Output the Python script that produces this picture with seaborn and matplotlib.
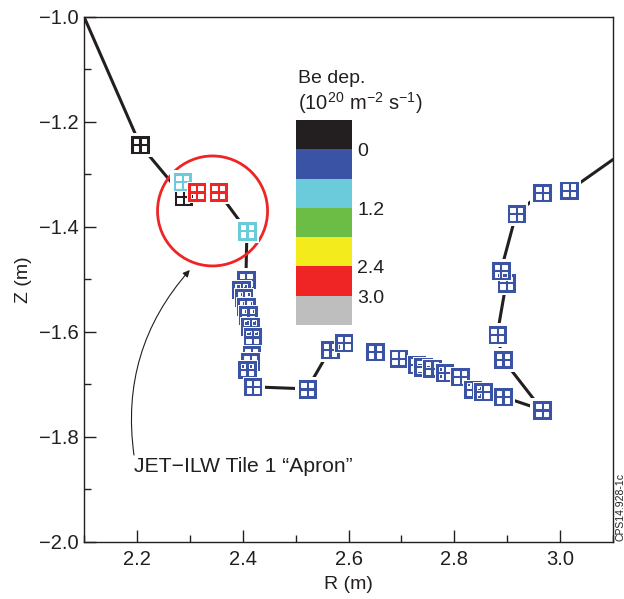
import numpy as np
import pandas as pd
import seaborn as sns
import matplotlib.pyplot as plt
from matplotlib.path import Path
from matplotlib.patches import Ellipse
from matplotlib.colors import ListedColormap
from matplotlib.ticker import MultipleLocator

sns.set_theme(style="ticks")
plt.rcParams["font.family"] = ["Liberation Sans", "DejaVu Sans"]
plt.rcParams["mathtext.fontset"] = "custom"
plt.rcParams["mathtext.rm"] = "Liberation Sans"
plt.rcParams["mathtext.it"] = "Liberation Sans:italic"

INK = "#231f20"

# wall profile, R and Z in m (first and last point have no tile)
r_pts = [2.100, 2.206, 2.288, 2.286, 2.313, 2.354, 2.408,
         2.406, 2.397, 2.402, 2.406, 2.410, 2.414, 2.418, 2.416, 2.414, 2.408, 2.419,
         2.522, 2.565, 2.591, 2.650, 2.694, 2.729, 2.741, 2.758, 2.782, 2.811,
         2.835, 2.854, 2.892, 2.966, 2.892, 2.881, 2.898, 2.888, 2.917, 2.966,
         3.017, 3.100]
z_pts = [-1.000, -1.244, -1.343, -1.314, -1.334, -1.334, -1.408,
         -1.501, -1.520, -1.535, -1.552, -1.568, -1.590, -1.610, -1.644, -1.657, -1.672, -1.705,
         -1.709, -1.634, -1.621, -1.638, -1.651, -1.663, -1.667, -1.670, -1.678, -1.686,
         -1.710, -1.714, -1.724, -1.749, -1.653, -1.606, -1.507, -1.484, -1.375, -1.335,
         -1.331, -1.272]
# Be deposition class of each tile ('' = no tile)
dep = ["", "k", "k", "c", "r", "r", "c"] + ["b"] * 32 + [""]
# is the wall line drawn from the previous point?
joined = [False, True, True, True, True, True, True,
          True, True, True, True, True, True, True, True, True, True, True,
          True, True, True, False, False, True, True, True, True, True,
          True, True, True, True, True, True, True, True, True, True,
          False, True]

# colour scale of the legend
scale_colors = ["#231f20", "#3a53a4", "#6bcbdb", "#6cbd45", "#f3eb1c", "#ee2524", "#bebebe"]
scale_labels = ["0", "1.2", "2.4", "3.0"]
scale_label_rows = [1, 3, 5, 6]
tile_palette = {"k": "#231f20", "b": "#3a53a4", "c": "#6bcbdb", "r": "#ee2524"}

wall = pd.DataFrame({"R": r_pts, "Z": z_pts, "dep": dep})
wall["seg"] = np.cumsum([not j for j in joined])
tiles = wall[wall["dep"] != ""]


def tile_marker():
    # square with four windows, like a tile symbol
    a, b, c = 1.0, 0.62, 0.165
    verts = [(-a, -a), (a, -a), (a, a), (-a, a), (-a, -a)]
    codes = [Path.MOVETO] + [Path.LINETO] * 3 + [Path.CLOSEPOLY]
    for sx in (-1, 1):
        for sy in (-1, 1):
            x0, x1 = sorted((sx * c, sx * b))
            y0, y1 = sorted((sy * c, sy * b))
            verts += [(x0, y0), (x0, y1), (x1, y1), (x1, y0), (x0, y0)]
            codes += [Path.MOVETO] + [Path.LINETO] * 3 + [Path.CLOSEPOLY]
    return Path(verts, codes)


fig = plt.figure(figsize=(6.24, 5.99), dpi=100)
ax = fig.add_axes([0.1346, 0.0957, 0.8478, 0.8764])

sns.lineplot(data=wall, x="R", y="Z", units="seg", estimator=None, sort=False,
             color=INK, lw=2.2, ax=ax, zorder=2, legend=False)
# white halo so the wall line stops short of the tiles
sns.scatterplot(data=tiles, x="R", y="Z", color="white", marker="s", s=17 ** 2,
                linewidth=0, ax=ax, zorder=3, legend=False)
sns.scatterplot(data=tiles, x="R", y="Z", hue="dep", palette=tile_palette,
                marker=tile_marker(), s=13.9 ** 2, edgecolor="white", linewidth=0.7,
                ax=ax, zorder=4, legend=False)

ax.add_patch(Ellipse((2.343, -1.370), 0.208, 0.2095, fill=False,
                     edgecolor="#ee2524", lw=2.0, zorder=2.5))
ax.annotate("", xy=(2.300, -1.4825), xytext=(2.1945, -1.835),
            arrowprops=dict(arrowstyle="-|>", color=INK, lw=0.8, mutation_scale=10,
                            shrinkA=0, shrinkB=0, connectionstyle="arc3,rad=-0.23"))
ax.text(2.195, -1.8577, "JET\u2212ILW Tile 1 \u201cApron\u201d", fontsize=15.2,
        color=INK, ha="left", va="center")

# colour legend
cax = ax.inset_axes([2.5008, -1.5872, 0.1058, 0.3904], transform=ax.transData)
sns.heatmap(np.arange(len(scale_colors)).reshape(-1, 1), cmap=ListedColormap(scale_colors),
            cbar=False, xticklabels=False, yticklabels=False, ax=cax)
cax.axis("off")
for lab, row in zip(scale_labels, scale_label_rows):
    cax.text(1.09, row + 0.08, lab, fontsize=14, color=INK, ha="left", va="center",
             clip_on=False)
ax.text(2.5045, -1.1263, "Be dep.", fontsize=14, color=INK, va="baseline")
ax.text(2.5045, -1.1764, r"(10$^{20}$ m$^{-2}$ s$^{-1}$)", fontsize=14.5, color=INK,
        va="baseline")

ax.set_xlim(2.1, 3.1)
ax.set_ylim(-2.0, -1.0)
ax.set_xticks(np.arange(2.2, 3.01, 0.2))
ax.set_yticks(np.arange(-2.0, -0.99, 0.2))
ax.xaxis.set_minor_locator(MultipleLocator(0.1))
ax.yaxis.set_minor_locator(MultipleLocator(0.1))
ax.tick_params(which="both", direction="in", color=INK, width=1.0)
ax.tick_params(which="major", length=8.5, labelsize=14.5, labelcolor=INK)
ax.tick_params(which="minor", length=4.8)
ax.tick_params(axis="x", pad=6)
ax.tick_params(axis="y", pad=4)
for sp in ax.spines.values():
    sp.set_visible(True)
    sp.set_color(INK)
    sp.set_linewidth(1.0)
ax.set_xlabel("R (m)", fontsize=14, color=INK, labelpad=5)
ax.set_ylabel("Z (m)", fontsize=14, color=INK, labelpad=5)

fig.text(0.9856, 0.097, "CPS14.928-1c", fontsize=7.5, color=INK, rotation=90,
         ha="left", va="bottom")

fig.savefig("out.png", dpi=100)
